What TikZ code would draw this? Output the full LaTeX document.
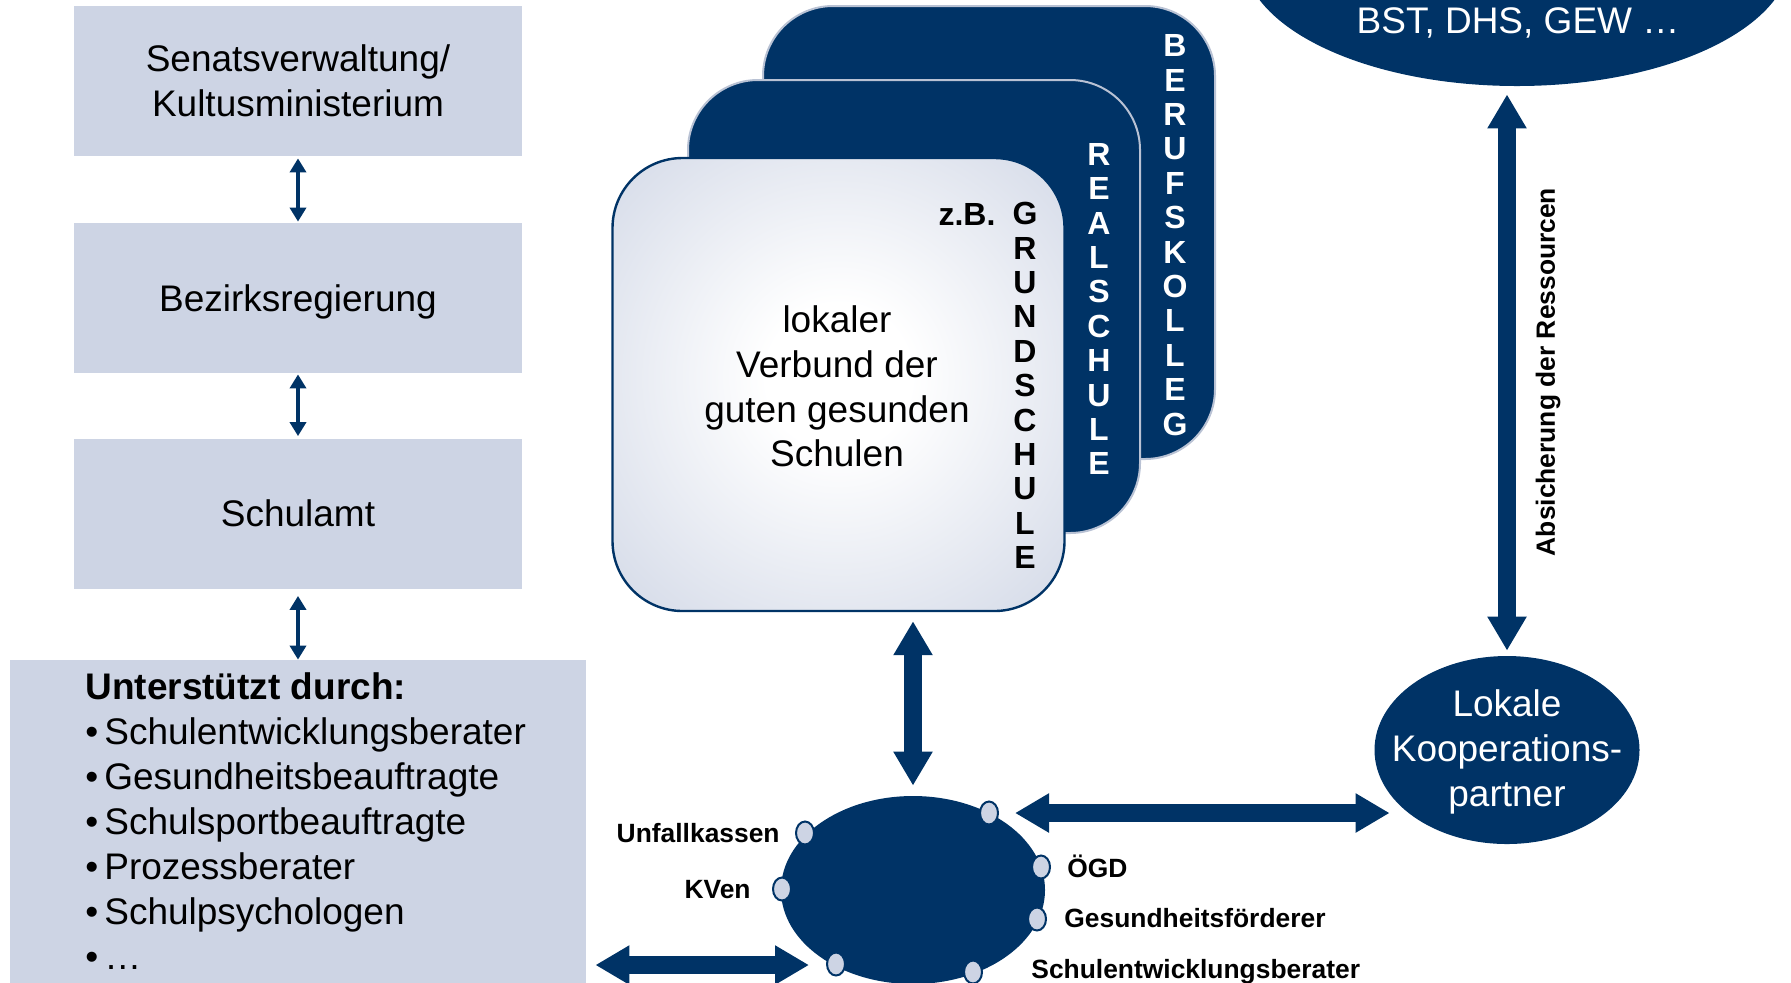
\documentclass[tikz,border=0pt]{standalone}
\usepackage{fontspec}
\setmainfont{Liberation Sans}
\usetikzlibrary{arrows.meta,shapes.geometric}
\definecolor{navy}{RGB}{0,51,102}
\definecolor{boxbg}{RGB}{205,212,228}
\definecolor{cardedge}{RGB}{185,194,212}
\pgfdeclareradialshading{cardshade}{\pgfpoint{0bp}{1bp}}{color(0bp)=(white); color(8bp)=(white); color(40bp)=(boxbg); color(75bp)=(boxbg)}
\newcommand\bodyfont{\fontsize{18.5}{22.3}\selectfont}
\newcommand\listfont{\fontsize{18.5}{22.5}\selectfont}
\newcommand\lblfont{\bfseries\fontsize{13.2}{16}\selectfont}
\newcommand\letterfont{\bfseries\fontsize{16}{17.2}\selectfont}
\newcommand\bul{•\hspace{3pt}}
\begin{document}
\begin{tikzpicture}[x=0.5pt, y=-0.5pt,
  govbox/.style={fill=boxbg, minimum width=224pt, minimum height=75pt, inner sep=0pt, align=center, font=\bodyfont},
  thinarrow/.style={draw=navy, line width=2pt, arrows={Triangle[width=8pt,length=7pt]-Triangle[width=8pt,length=7pt]}},
  bigarrow/.style={draw=navy, line width=9pt, arrows={Triangle[width=18.5pt,length=17pt]-Triangle[width=18.5pt,length=17pt]}},
  card/.style={rounded corners=35pt, minimum width=226pt, minimum height=226.5pt, inner sep=0pt},
  backcard/.style={card, fill=navy, draw=cardedge, line width=1pt},
  frontcard/.style={card, draw=navy, line width=1.2pt, shade, shading=cardshade},
  letters/.style={font=\letterfont, align=center, inner sep=0pt},
  lbl/.style={font=\lblfont, inner sep=0pt},
  darkoval/.style={ellipse, fill=navy, inner sep=0pt},
  dot/.style={ellipse, fill=boxbg, draw=navy, line width=1pt, minimum width=9pt, minimum height=11.5pt, inner sep=0pt}
]
\useasboundingbox (0,0) rectangle (1791,982);

% left hierarchy
\node[govbox] (senat) at (298,81) {Senatsverwaltung/\\Kultusministerium};
\node[govbox] (bez) at (298,298) {};
\node[font=\bodyfont, inner sep=0pt] (beztxt) at (298,302) {Bezirksregierung};
\node[govbox] (amt) at (298,513.5) {Schulamt};
\node[fill=boxbg, minimum width=288pt, minimum height=170pt, inner sep=0pt] (support) at (298,830) {};
\node[anchor=west, align=left, font=\listfont, inner sep=0pt] (supporttext) at (85,821)
  {\textbf{Unterstützt durch:}\\\bul Schulentwicklungsberater\\\bul Gesundheitsbeauftragte\\\bul Schulsportbeauftragte\\\bul Prozessberater\\\bul Schulpsychologen\\\bul …};

\draw[thinarrow, shorten <=1pt, shorten >=0.5pt] (senat.south) -- (bez.north);
\draw[thinarrow, shorten <=0.5pt, shorten >=1pt] (bez.south) -- (amt.north);
\draw[thinarrow, shorten <=3.5pt, shorten >=0pt] (amt.south) -- (support.north);

% school cards
\node[backcard] (beruf) at (989,232.5) {};
\node[backcard] (real) at (914,306.5) {};
\node[frontcard] (grund) at (838.5,384.5) {};
\node[letters, text=white] (berufTxt) at (1175,235) {B\\E\\R\\U\\F\\S\\K\\O\\L\\L\\E\\G};
\node[letters, text=white] (realTxt) at (1099,309) {R\\E\\A\\L\\S\\C\\H\\U\\L\\E};
\node[letters, text=black] (grundTxt) at (1025,385.5) {G\\R\\U\\N\\D\\S\\C\\H\\U\\L\\E};
\node[font=\letterfont, inner sep=0pt] (zb) at (967,214) {z.B.};
\node[font=\bodyfont, align=center, inner sep=0pt] (verbund) at (837,386.5) {lokaler\\Verbund der\\guten gesunden\\Schulen};

% right side
\node[darkoval, minimum width=274pt, minimum height=131pt] (bst) at (1517,-45) {};
\node[font=\bodyfont, text=white, inner sep=0pt] (bsttxt) at (1518,23) {BST, DHS, GEW …};
\node[darkoval, minimum width=132.5pt, minimum height=94pt] (lok) at (1507,750) {};
\node[font=\bodyfont, text=white, align=center, inner sep=0pt] (loktxt) at (1507,752) {Lokale\\Kooperations-\\partner};
\draw[bigarrow, shorten <=4pt, shorten >=2.5pt] (lok.north |- bst.south) -- (lok.north);
\node[lbl, rotate=90] (abs) at (1548,372) {Absicherung der Ressourcen};

% network oval
\node[darkoval, minimum width=132pt, minimum height=94pt] (netz) at (913,890) {};
\node[dot] (d1) at (989,813) {};
\node[dot] (d2) at (805,833) {};
\node[dot] (d3) at (782,889) {};
\node[dot] (d4) at (1041,867) {};
\node[dot] (d5) at (1037,919) {};
\node[dot] (d6) at (836,964) {};
\node[dot] (d7) at (973,972) {};
\node[lbl, anchor=base east] (lUnf) at (780,842) {Unfallkassen};
\node[lbl, anchor=base east] (lKV) at (751,898) {KVen};
\node[lbl, anchor=base west] (lOGD) at (1067,877) {ÖGD};
\node[lbl, anchor=base west] (lGes) at (1064,927) {Gesundheitsförderer};
\node[lbl, anchor=base west] (lSch) at (1031,978) {Schulentwicklungsberater};

\draw[bigarrow, shorten <=4.5pt, shorten >=5pt] (grund.south -| netz.north) -- (netz.north);
\coordinate (hArrowL) at (1015,813);
\draw[bigarrow, shorten >=-7.75pt] (hArrowL) -- (hArrowL -| lok.west);
\coordinate (bArrowR) at (809,965);
\draw[bigarrow, shorten <=4.5pt] (support.east |- bArrowR) -- (bArrowR);
\end{tikzpicture}
\end{document}
